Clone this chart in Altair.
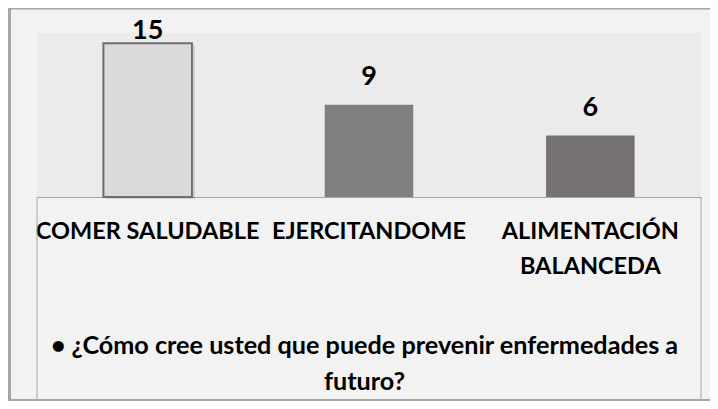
import altair as alt
import pandas as pd

categories = ["COMER SALUDABLE", "EJERCITANDOME", "ALIMENTACIÓN BALANCEDA"]
values = [15, 9, 6]
bar_colors = ["#dadada", "#7f7f7f", "#767171"]
title_lines = ["• ¿Cómo cree usted que puede prevenir enfermedades a", "futuro?"]

df = pd.DataFrame({"cat": categories, "value": values})
one = pd.DataFrame({"k": [0]})

W, H = 664, 164
FONT = "Lato"
FRAME = "#a6a6a6"

x = alt.X(
    "cat:N",
    sort=categories,
    scale=alt.Scale(paddingInner=0.6, paddingOuter=0.3),
    axis=alt.Axis(
        title=title_lines,
        labelAngle=0,
        labelFont=FONT,
        labelFontSize=23.5,
        labelFontWeight="bold",
        labelColor="#000000",
        labelPadding=22,
        labelLineHeight=35,
        labelLimit=0,
        labelOverlap=False,
        labelExpr="datum.label == 'ALIMENTACIÓN BALANCEDA' ? ['ALIMENTACIÓN', 'BALANCEDA'] : datum.label",
        ticks=False,
        domainColor=FRAME,
        domainWidth=1,
        titleFont=FONT,
        titleFontSize=25.2,
        titleFontWeight="bold",
        titleColor="#000000",
        titleLineHeight=36,
        titlePadding=56,
        titleX=W / 2 - 5,
    ),
)
y = alt.Y("value:Q", scale=alt.Scale(domain=[0, 16]), axis=None)

shadow = alt.Chart(df).transform_filter(
    alt.datum.cat == categories[0]
).mark_bar(color="#000000", opacity=0.12, xOffset=3, yOffset=2).encode(x=x, y=y)

bars = alt.Chart(df).mark_bar().encode(
    x=x,
    y=y,
    fill=alt.Fill("cat:N", scale=alt.Scale(domain=categories, range=bar_colors), legend=None),
    stroke=alt.condition(alt.datum.cat == categories[0], alt.value("#6e6e6e"), alt.value(None)),
    strokeWidth=alt.condition(alt.datum.cat == categories[0], alt.value(2), alt.value(0)),
)

text_style = dict(font=FONT, fontSize=27, fontWeight="bold", color="#000000", baseline="alphabetic")
labels_low = alt.Chart(df).transform_filter(alt.datum.value < 15).mark_text(dy=-20, **text_style).encode(
    x=x, y=y, text="value:Q"
)
labels_top = alt.Chart(df).transform_filter(alt.datum.value >= 15).mark_text(dy=-4, **text_style).encode(
    x=x, y=y, text="value:Q"
)

box_left = alt.Chart(one).mark_rule(color=FRAME, strokeWidth=1).encode(
    x=alt.value(0), y=alt.value(H), y2=alt.value(366)
)
box_right = alt.Chart(one).mark_rule(color=FRAME, strokeWidth=1).encode(
    x=alt.value(W), y=alt.value(H), y2=alt.value(366)
)
frame_left = alt.Chart(one).mark_rule(color=FRAME, strokeWidth=4).encode(
    x=alt.value(-28), y=alt.value(-25), y2=alt.value(368)
)
frame_top = alt.Chart(one).mark_rule(color=FRAME, strokeWidth=2).encode(
    x=alt.value(-29), x2=alt.value(673), y=alt.value(-24.5)
)
frame_bottom = alt.Chart(one).mark_rule(color=FRAME, strokeWidth=2).encode(
    x=alt.value(-29), x2=alt.value(673), y=alt.value(367)
)

chart = alt.layer(
    shadow, bars, labels_low, labels_top, box_left, box_right, frame_left, frame_top, frame_bottom
).properties(
    width=W,
    height=H,
    background="#f2f2f2",
    padding={"left": 29, "top": 25, "right": 9, "bottom": 204},
    autosize=alt.AutoSizeParams(type="none"),
).configure_view(
    fill="#ebebeb", stroke=None
)

chart.save("out.html", embed_options={"renderer": "svg", "actions": False})
